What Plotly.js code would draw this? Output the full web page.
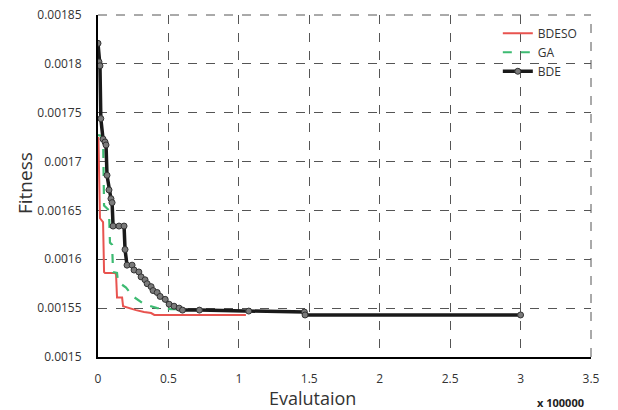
<!DOCTYPE html>
<html>
<head>
<meta charset="utf-8">
<script src="https://cdn.plot.ly/plotly-3.0.1.min.js"></script>
<style>html,body{margin:0;padding:0;background:#fff;}#chart{width:618px;height:410px;}</style>
</head>
<body>
<div id="chart"></div>
<script>
// Evaluations (x 100000) and fitness values
const bdesoX = [0, 0.003, 0.014, 0.028, 0.036, 0.043, 0.05, 0.114, 0.128, 0.135, 0.171, 0.178, 0.22, 0.27, 0.327, 0.377, 0.4, 0.97, 1.05];
const bdesoY = [0.001724, 0.001724, 0.001642, 0.00164, 0.001638, 0.001587, 0.001586, 0.001586, 0.001585, 0.001561, 0.001561, 0.001552, 0.00155, 0.001548, 0.001546, 0.001545, 0.001543, 0.001543, 0.001543];

const gaX = [0, 0.036, 0.043, 0.078, 0.085, 0.1, 0.107, 0.135, 0.142, 0.199, 0.249, 0.327, 0.42, 0.52, 0.61];
const gaY = [0.001727, 0.001726, 0.001655, 0.00165, 0.001617, 0.001615, 0.001587, 0.001586, 0.001577, 0.001571, 0.001562, 0.001554, 0.00155, 0.001549, 0.001549];

const bdeX = [0, 0.007, 0.014, 0.02, 0.036, 0.05, 0.057, 0.064, 0.078, 0.092, 0.1, 0.107, 0.149, 0.185, 0.192, 0.206, 0.242, 0.256, 0.29, 0.306, 0.334, 0.349, 0.377, 0.391, 0.42, 0.441, 0.477, 0.505, 0.54, 0.576, 0.6, 0.72, 1.07, 1.465, 1.47, 3.0];
const bdeY = [0.001821, 0.001802, 0.001798, 0.001744, 0.001723, 0.00172, 0.001717, 0.001686, 0.001671, 0.001662, 0.001658, 0.001634, 0.001634, 0.001634, 0.00161, 0.001594, 0.001594, 0.001589, 0.001587, 0.001582, 0.001579, 0.001575, 0.001572, 0.001568, 0.001566, 0.001562, 0.001559, 0.001554, 0.001552, 0.00155, 0.001548, 0.001548, 0.001547, 0.001546, 0.001543, 0.001543];

const xTickVals = [0, 0.5, 1, 1.5, 2, 2.5, 3, 3.5];
const xTickText = ["0", "0.5", "1", "1.5", "2", "2.5", "3", "3.5"];
const yTickVals = [0.0015, 0.00155, 0.0016, 0.00165, 0.0017, 0.00175, 0.0018, 0.00185];
const yTickText = ["0.0015", "0.00155", "0.0016", "0.00165", "0.0017", "0.00175", "0.0018", "0.00185"];

const traces = [
  {x: bdesoX, y: bdesoY, name: "BDESO", mode: "lines", line: {color: "#e8534f", width: 2}},
  {x: gaX, y: gaY, name: "GA", mode: "lines", line: {color: "#3dbb72", width: 2.2, dash: "dash"}},
  {x: bdeX, y: bdeY, name: "BDE", mode: "lines+markers", line: {color: "#1a1a1a", width: 3.5},
   marker: {size: 6, color: "#7a7a7a", line: {color: "#333", width: 1}}}
];

const gridDash = {color: "#555", width: 1, dash: "dash"};

const layout = {
  width: 618, height: 410,
  margin: {l: 98, r: 27, t: 15, b: 53},
  paper_bgcolor: "#fff", plot_bgcolor: "#fff",
  font: {family: "Open Sans, sans-serif", size: 12, color: "#333"},
  showlegend: true,
  legend: {x: 0.811, y: 0.989, xanchor: "left", yanchor: "top", bgcolor: "rgba(0,0,0,0)",
           font: {size: 12, color: "#333"}, tracegroupgap: 0},
  xaxis: {range: [0, 3.5], tickmode: "array", tickvals: xTickVals, ticktext: xTickText,
          showgrid: true, gridcolor: "#555", griddash: "dash", gridwidth: 1,
          showline: true, linecolor: "#000", linewidth: 2, zeroline: false,
          ticks: "", ticklabelstandoff: 10, tickfont: {size: 12, color: "#333"}},
  yaxis: {range: [0.0015, 0.00185], tickmode: "array", tickvals: yTickVals, ticktext: yTickText,
          showgrid: true, gridcolor: "#555", griddash: "dash", gridwidth: 1,
          showline: true, linecolor: "#000", linewidth: 2, zeroline: false,
          ticks: "", ticklabelstandoff: 12, tickfont: {size: 12, color: "#333"}},
  shapes: [
    {type: "line", xref: "paper", yref: "paper", x0: 0, x1: 1, y0: 1, y1: 1, line: gridDash, layer: "below"},
    {type: "line", xref: "paper", yref: "paper", x0: 1, x1: 1, y0: 0, y1: 1, line: gridDash, layer: "below"}
  ],
  annotations: [
    {text: "Fitness", xref: "paper", yref: "paper", x: (25 - 98) / 493, y: (357 - 183) / 342,
     xanchor: "center", yanchor: "middle", textangle: -90, showarrow: false, font: {size: 19, color: "#333"}},
    {text: "Evalutaion", xref: "paper", yref: "paper", x: (312 - 98) / 493, y: (357 - 398) / 342,
     xanchor: "center", yanchor: "middle", showarrow: false, font: {size: 18, color: "#333"}},
    {text: "<b>x 100000</b>", xref: "paper", yref: "paper", x: (560 - 98) / 493, y: (357 - 402) / 342,
     xanchor: "center", yanchor: "middle", showarrow: false, font: {size: 11, color: "#222"}}
  ]
};

Plotly.newPlot("chart", traces, layout, {displayModeBar: false, staticPlot: true});
</script>
</body>
</html>
